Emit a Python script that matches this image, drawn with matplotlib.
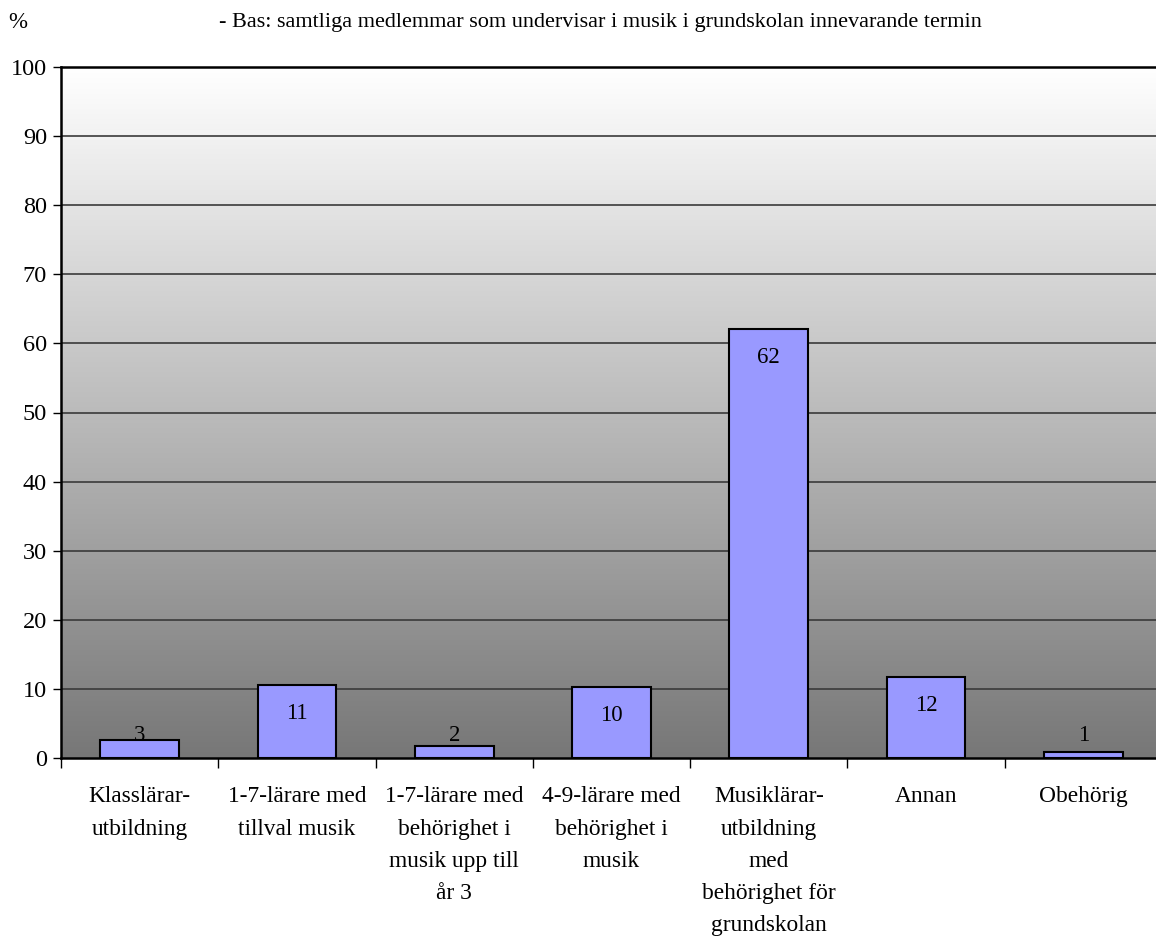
import matplotlib
matplotlib.use("Agg")
import matplotlib.pyplot as plt
import numpy as np
from matplotlib.colors import LinearSegmentedColormap

categories = ["Klasslärar-\nutbildning", "1-7-lärare med\ntillval musik",
              "1-7-lärare med\nbehörighet i\nmusik upp till\når 3",
              "4-9-lärare med\nbehörighet i\nmusik",
              "Musiklärar-\nutbildning\nmed\nbehörighet för\ngrundskolan",
              "Annan", "Obehörig"]
values = [2.6, 10.6, 1.7, 10.3, 62.1, 11.7, 0.9]
value_labels = ["3", "11", "2", "10", "62", "12", "1"]
yticks = [0, 10, 20, 30, 40, 50, 60, 70, 80, 90, 100]
title = "- Bas: samtliga medlemmar som undervisar i musik i grundskolan innevarande termin"

plt.rcParams['font.family'] = ['Liberation Serif', 'DejaVu Serif']
FS = 16.8

W, H = 1156, 940
fig = plt.figure(figsize=(W / 100, H / 100), dpi=100)
left, right, top, bottom = 61, 1162, 67, 758
ax = fig.add_axes([left / W, (H - bottom) / H, (right - left) / W, (bottom - top) / H])

n = len(categories)

# gradient background (white at top -> gray at bottom)
cmap = LinearSegmentedColormap.from_list("g", ["#777777", "#ffffff"])
grad = np.linspace(0, 1, 256).reshape(-1, 1)
ax.imshow(grad, extent=[0, n, 0, 100], origin='lower', aspect='auto',
          cmap=cmap, zorder=0)
ax.set_xlim(0, n)
ax.set_ylim(0, 100)

for t in yticks[1:-1]:
    ax.axhline(t, color="#3a3a3a", lw=1.2, zorder=1)

x = np.arange(n) + 0.5
ax.bar(x, values, width=0.5, color="#9999ff", edgecolor="black", linewidth=1.5, zorder=2)

for xi, v, lab in zip(x, values, value_labels):
    ytop = max(v - 2.6, 4.8)
    ax.text(xi, ytop, lab, ha='center', va='top', fontsize=16.5, zorder=3)

ax.set_yticks(yticks)
ax.set_yticklabels([str(t) for t in yticks], fontsize=17.5)
ax.set_xticks(np.arange(n + 1))
ax.set_xticklabels([])
ax.tick_params(axis='x', direction='out', length=7, width=1, color='black')
ax.tick_params(axis='y', direction='out', length=6, width=1, color='black', pad=4)
for xi, c in zip(x, categories):
    ax.text(xi, -4.1, c, ha='center', va='top', fontsize=FS, linespacing=1.7)

for s in ['left', 'bottom', 'top']:
    ax.spines[s].set_linewidth(1.8)
    ax.spines[s].set_color('black')
ax.spines['right'].set_visible(False)

fig.text(18 / W, 1 - 23 / H, "%", fontsize=16.5, ha='center', va='center')
fig.text(600 / W, 1 - 23 / H, title, fontsize=16, ha='center', va='center')

fig.savefig("out.png", dpi=100)
